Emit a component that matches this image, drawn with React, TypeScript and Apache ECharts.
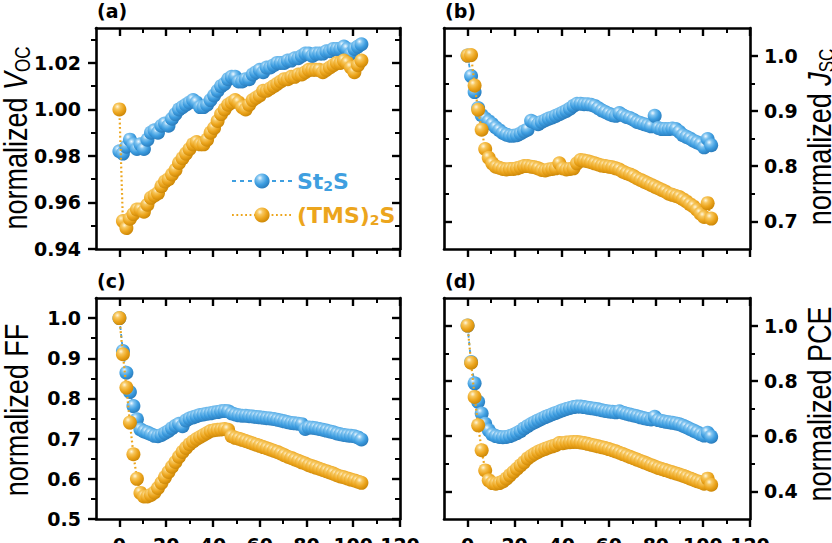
import React, { useEffect, useRef } from 'react';
import * as echarts from 'echarts';

// ---- data ----
const times = [
  0, 1.5, 3, 4.5, 6, 7.5, 9, 10.5, 12, 13.5,
  15, 16.5, 18, 19.5, 21, 22.5, 24, 25.5, 27, 28.5,
  30, 31.5, 33, 34.5, 36, 37.5, 39, 40.5, 42, 43.5,
  45, 46.5, 48, 49.5, 51, 52.5, 54, 55.5, 57, 58.5,
  60, 61.5, 63, 64.5, 66, 67.5, 69, 70.5, 72, 73.5,
  75, 76.5, 78, 79.5, 81, 82.5, 84, 85.5, 87, 88.5,
  90, 91.5, 93, 94.5, 96, 97.5, 99, 100.5, 102, 103.5,
];

const vocSt2S = [
  0.982, 0.981, 0.984, 0.987, 0.985, 0.983, 0.985, 0.983, 0.987, 0.990,
  0.991, 0.990, 0.993, 0.994, 0.993, 0.996, 0.998, 1.000, 1.001, 1.002,
  1.003, 1.004, 1.003, 1.001, 1.001, 1.002, 1.004, 1.006, 1.008, 1.010,
  1.011, 1.013, 1.014, 1.014, 1.012, 1.012, 1.013, 1.013, 1.015, 1.016,
  1.017, 1.016, 1.018, 1.018, 1.019, 1.020, 1.020, 1.020, 1.021, 1.021,
  1.022, 1.022, 1.023, 1.024, 1.024, 1.023, 1.024, 1.024, 1.024, 1.025,
  1.025, 1.026, 1.026, 1.026, 1.027, 1.026, 1.024, 1.026, 1.027, 1.028,
];
const vocTMS = [
  1.000, 0.952, 0.949, 0.953, 0.955, 0.957, 0.957, 0.956, 0.959, 0.962,
  0.963, 0.964, 0.967, 0.969, 0.970, 0.972, 0.974, 0.977, 0.979, 0.981,
  0.983, 0.985, 0.986, 0.985, 0.985, 0.987, 0.990, 0.992, 0.995, 0.998,
  1.000, 1.002, 1.003, 1.004, 1.003, 1.001, 1.000, 1.002, 1.004, 1.005,
  1.006, 1.008, 1.008, 1.009, 1.010, 1.011, 1.012, 1.013, 1.013, 1.014,
  1.014, 1.015, 1.015, 1.016, 1.017, 1.017, 1.017, 1.017, 1.016, 1.017,
  1.018, 1.019, 1.020, 1.020, 1.021, 1.020, 1.018, 1.016, 1.019, 1.021,
];
const jscSt2S = [
  1.000, 0.963, 0.934, 0.905, 0.892, 0.886, 0.881, 0.876, 0.870, 0.865,
  0.860, 0.857, 0.855, 0.855, 0.856, 0.859, 0.863, 0.866, 0.882, 0.879,
  0.876, 0.880, 0.883, 0.886, 0.888, 0.891, 0.894, 0.897, 0.900, 0.904,
  0.909, 0.913, 0.913, 0.912, 0.912, 0.911, 0.909, 0.905, 0.901, 0.898,
  0.895, 0.892, 0.891, 0.896, 0.892, 0.889, 0.887, 0.884, 0.880, 0.878,
  0.876, 0.874, 0.872, 0.891, 0.869, 0.867, 0.867, 0.867, 0.868, 0.867,
  0.862, 0.856, 0.853, 0.850, 0.846, 0.843, 0.840, 0.834, 0.849, 0.838,
];
const jscTMS = [
  1.000, 1.001, 0.946, 0.902, 0.866, 0.831, 0.815, 0.805, 0.799, 0.797,
  0.795, 0.794, 0.795, 0.795, 0.796, 0.798, 0.800, 0.800, 0.799, 0.798,
  0.796, 0.793, 0.792, 0.794, 0.795, 0.796, 0.805, 0.796, 0.794, 0.795,
  0.796, 0.805, 0.811, 0.810, 0.809, 0.807, 0.805, 0.803, 0.801, 0.800,
  0.799, 0.798, 0.796, 0.794, 0.790, 0.787, 0.785, 0.782, 0.778, 0.775,
  0.772, 0.769, 0.766, 0.763, 0.760, 0.757, 0.754, 0.750, 0.748, 0.746,
  0.744, 0.740, 0.736, 0.731, 0.727, 0.721, 0.714, 0.708, 0.733, 0.705,
];
const ffSt2S = [
  1.000, 0.918, 0.864, 0.816, 0.781, 0.748, 0.723, 0.718, 0.715, 0.711,
  0.707, 0.706, 0.709, 0.714, 0.719, 0.726, 0.732, 0.737, 0.731, 0.745,
  0.750, 0.753, 0.756, 0.759, 0.760, 0.762, 0.763, 0.765, 0.766, 0.768,
  0.769, 0.768, 0.763, 0.760, 0.758, 0.757, 0.757, 0.756, 0.755, 0.754,
  0.753, 0.752, 0.751, 0.750, 0.749, 0.747, 0.745, 0.743, 0.741, 0.739,
  0.738, 0.737, 0.736, 0.724, 0.728, 0.727, 0.726, 0.724, 0.722, 0.720,
  0.718, 0.716, 0.713, 0.711, 0.709, 0.708, 0.707, 0.706, 0.703, 0.698,
];
const ffTMS = [
  1.000, 0.910, 0.827, 0.740, 0.661, 0.600, 0.565, 0.556, 0.556, 0.560,
  0.566, 0.577, 0.590, 0.604, 0.617, 0.630, 0.642, 0.655, 0.667, 0.677,
  0.686, 0.693, 0.699, 0.704, 0.709, 0.714, 0.719, 0.721, 0.722, 0.723,
  0.724, 0.722, 0.706, 0.702, 0.700, 0.697, 0.694, 0.691, 0.688, 0.685,
  0.682, 0.679, 0.676, 0.673, 0.670, 0.667, 0.663, 0.659, 0.655, 0.652,
  0.648, 0.645, 0.641, 0.638, 0.634, 0.631, 0.628, 0.625, 0.622, 0.619,
  0.616, 0.613, 0.609, 0.606, 0.604, 0.601, 0.598, 0.596, 0.593, 0.590,
];
const pceSt2S = [
  1.000, 0.868, 0.791, 0.724, 0.682, 0.645, 0.621, 0.606, 0.600, 0.597,
  0.596, 0.597, 0.600, 0.605, 0.611, 0.618, 0.628, 0.636, 0.644, 0.650,
  0.657, 0.663, 0.669, 0.674, 0.679, 0.684, 0.689, 0.694, 0.698, 0.702,
  0.705, 0.707, 0.707, 0.705, 0.703, 0.701, 0.699, 0.697, 0.694, 0.691,
  0.689, 0.688, 0.686, 0.690, 0.685, 0.681, 0.678, 0.675, 0.672, 0.668,
  0.665, 0.662, 0.660, 0.670, 0.658, 0.655, 0.652, 0.650, 0.648, 0.646,
  0.643, 0.638, 0.632, 0.626, 0.620, 0.614, 0.607, 0.602, 0.612, 0.598,
];
const pceTMS = [
  1.000, 0.866, 0.742, 0.639, 0.549, 0.476, 0.440, 0.430, 0.428, 0.430,
  0.436, 0.446, 0.458, 0.470, 0.482, 0.494, 0.505, 0.519, 0.528, 0.536,
  0.543, 0.549, 0.554, 0.559, 0.563, 0.567, 0.575, 0.574, 0.577, 0.578,
  0.579, 0.579, 0.577, 0.575, 0.572, 0.569, 0.566, 0.563, 0.560, 0.557,
  0.553, 0.549, 0.545, 0.540, 0.535, 0.530, 0.525, 0.520, 0.515, 0.510,
  0.505, 0.500, 0.495, 0.490, 0.485, 0.481, 0.477, 0.473, 0.469, 0.465,
  0.461, 0.457, 0.452, 0.447, 0.442, 0.437, 0.433, 0.428, 0.446, 0.424,
];

// tick labels
const xMajor = [0, 20, 40, 60, 80, 100, 120];
const xMinor = [10, 30, 50, 70, 90, 110];
const vocMajor = [0.94, 0.96, 0.98, 1.0, 1.02];
const vocMinor = [0.95, 0.97, 0.99, 1.01, 1.03];
const jscMajor = [0.7, 0.8, 0.9, 1.0];
const jscMinor = [0.75, 0.85, 0.95];
const ffMajor = [0.5, 0.6, 0.7, 0.8, 0.9, 1.0];
const ffMinor = [0.55, 0.65, 0.75, 0.85, 0.95];
const pceMajor = [0.4, 0.6, 0.8, 1.0];
const pceMinor = [0.5, 0.7, 0.9];

const seriesNames = ['St2S', '(TMS)2S'];
const panelLabels = ['(a)', '(b)', '(c)', '(d)'];

// ---- style ----
const TICK_FONT = 'DejaVu Sans';
const NAME_FONT = 'Liberation Sans';
const BLUE = '#3f9fe0';
const ORANGE = '#eca51d';

const blueSphere = new echarts.graphic.RadialGradient(0.36, 0.3, 0.75, [
  { offset: 0, color: '#f2f9ff' },
  { offset: 0.25, color: '#80c4f0' },
  { offset: 0.6, color: '#3d9de0' },
  { offset: 1, color: '#2778b8' },
]);
const orangeSphere = new echarts.graphic.RadialGradient(0.36, 0.3, 0.75, [
  { offset: 0, color: '#fff6dc' },
  { offset: 0.25, color: '#f7c75e' },
  { offset: 0.6, color: '#eca51d' },
  { offset: 1, color: '#c98404' },
]);

const panels = [
  {
    grid: { left: 96, top: 28, width: 304, height: 221 },
    yMin: 0.94, yMax: 1.035, yMajor: vocMajor, yMinor: vocMinor, digits: 2,
    side: 'left', xLabels: false, st: vocSt2S, tms: vocTMS,
    name: '{n|normalized }{v|V}{s|OC}', nameX: 15, nameY: 138,
  },
  {
    grid: { left: 444, top: 28, width: 306, height: 221 },
    yMin: 0.65, yMax: 1.05, yMajor: jscMajor, yMinor: jscMinor, digits: 1,
    side: 'right', xLabels: false, st: jscSt2S, tms: jscTMS,
    name: '{n|normalized }{v|J}{s|SC}', nameX: 819, nameY: 137,
  },
  {
    grid: { left: 96, top: 298, width: 304, height: 221 },
    yMin: 0.5, yMax: 1.05, yMajor: ffMajor, yMinor: ffMinor, digits: 1,
    side: 'left', xLabels: true, st: ffSt2S, tms: ffTMS,
    name: '{n|normalized FF}', nameX: 16, nameY: 410,
  },
  {
    grid: { left: 444, top: 298, width: 306, height: 221 },
    yMin: 0.3, yMax: 1.1, yMajor: pceMajor, yMinor: pceMinor, digits: 1,
    side: 'right', xLabels: true, st: pceSt2S, tms: pceTMS,
    name: '{n|normalized PCE}', nameX: 819, nameY: 404,
  },
];

const labelStyle = {
  color: '#000',
  fontFamily: TICK_FONT,
  fontWeight: 'bold' as const,
  fontSize: 19,
};

function makeAxis(
  gridIndex: number,
  position: string,
  min: number,
  max: number,
  ticks: number[],
  inside: boolean,
  major: boolean,
  showLabels: boolean,
  formatter: (v: number) => string,
  margin: number,
) {
  return {
    type: 'value',
    gridIndex,
    position,
    min,
    max,
    splitLine: { show: false },
    axisLine: {
      show: major,
      onZero: false,
      lineStyle: { color: '#000', width: 2.6 },
    },
    axisTick: {
      show: true,
      inside,
      length: major ? 8 : 5,
      customValues: ticks,
      lineStyle: { color: '#000', width: major ? 2.4 : 2 },
    },
    axisLabel: {
      show: showLabels,
      customValues: ticks,
      formatter,
      margin,
      ...labelStyle,
    },
  };
}

function buildOption() {
  const grids: any[] = [];
  const xAxes: any[] = [];
  const yAxes: any[] = [];
  const series: any[] = [];
  const graphics: any[] = [];

  panels.forEach((p, i) => {
    const main = 2 * i;
    const ghost = 2 * i + 1;
    const g = { ...p.grid, containLabel: false, outerBoundsMode: 'none', show: false };
    grids.push({ ...g });
    grids.push({ ...g });
    const xf = (v: number) => String(v);
    const yf = (v: number) => v.toFixed(p.digits);

    xAxes.push(makeAxis(main, 'bottom', -10, 120, xMajor, false, true, p.xLabels, xf, 16));
    xAxes.push(makeAxis(main, 'top', -10, 120, xMajor, true, true, false, xf, 16));
    xAxes.push(makeAxis(ghost, 'bottom', -10, 120, xMinor, false, false, false, xf, 16));
    xAxes.push(makeAxis(ghost, 'top', -10, 120, xMinor, true, false, false, xf, 16));

    const leftLab = p.side === 'left';
    yAxes.push(makeAxis(main, 'left', p.yMin, p.yMax, p.yMajor, !leftLab, true, leftLab, yf, 15));
    yAxes.push(makeAxis(main, 'right', p.yMin, p.yMax, p.yMajor, leftLab, true, !leftLab, yf, 14));
    yAxes.push(makeAxis(ghost, 'left', p.yMin, p.yMax, p.yMinor, !leftLab, false, false, yf, 15));
    yAxes.push(makeAxis(ghost, 'right', p.yMin, p.yMax, p.yMinor, leftLab, false, false, yf, 14));

    series.push({
      name: seriesNames[0],
      type: 'line',
      xAxisIndex: 4 * i,
      yAxisIndex: 4 * i,
      data: times.map((t, k) => [t, p.st[k]]),
      symbol: 'circle',
      symbolSize: 14,
      showSymbol: true,
      lineStyle: { color: BLUE, width: 1.8, type: [4, 4] },
      itemStyle: { color: blueSphere, borderWidth: 0 },
      emphasis: { disabled: true },
      silent: true,
      z: 2,
    });
    series.push({
      name: seriesNames[1],
      type: 'line',
      xAxisIndex: 4 * i,
      yAxisIndex: 4 * i,
      data: times.map((t, k) => [t, p.tms[k]]),
      symbol: 'circle',
      symbolSize: 14,
      showSymbol: true,
      lineStyle: { color: ORANGE, width: 2.2, type: [1.8, 2.6] },
      itemStyle: { color: orangeSphere, borderWidth: 0 },
      emphasis: { disabled: true },
      silent: true,
      z: 3,
    });

    graphics.push({
      type: 'text',
      x: p.grid.left + 1,
      y: p.grid.top - 27,
      style: {
        text: panelLabels[i],
        fill: '#000',
        fontFamily: TICK_FONT,
        fontWeight: 'bold',
        fontSize: 19,
        align: 'left',
        verticalAlign: 'top',
      },
    });
    graphics.push({
      type: 'text',
      x: p.nameX,
      y: p.nameY,
      rotation: Math.PI / 2,
      scaleY: 1.25,
      style: {
        text: p.name,
        fill: '#000',
        fontFamily: NAME_FONT,
        fontSize: 27,
        align: 'center',
        verticalAlign: 'middle',
        rich: {
          n: { fontFamily: NAME_FONT, fontSize: 27, fill: '#000' },
          v: { fontFamily: NAME_FONT, fontSize: 27, fontStyle: 'italic', fill: '#000' },
          s: { fontFamily: NAME_FONT, fontSize: 17, fill: '#000', padding: [12, 0, 0, 0] },
        },
      },
    });
  });

  return {
    animation: false,
    backgroundColor: '#ffffff',
    grid: grids,
    xAxis: xAxes,
    yAxis: yAxes,
    series,
    legend: {
      show: true,
      orient: 'vertical',
      left: 226,
      top: 165,
      itemWidth: 60,
      itemHeight: 19,
      itemGap: 11,
      selectedMode: false,
      data: seriesNames,
      formatter: (n: string) =>
        n === seriesNames[0] ? '{b|St}{bs|2}{b|S}' : '{o|(TMS)}{os|2}{o|S}',
      textStyle: {
        rich: {
          b: { color: BLUE, fontFamily: TICK_FONT, fontWeight: 'bold', fontSize: 22 },
          bs: { color: BLUE, fontFamily: TICK_FONT, fontWeight: 'bold', fontSize: 14, padding: [10, 0, 0, 0] },
          o: { color: ORANGE, fontFamily: TICK_FONT, fontWeight: 'bold', fontSize: 22 },
          os: { color: ORANGE, fontFamily: TICK_FONT, fontWeight: 'bold', fontSize: 14, padding: [10, 0, 0, 0] },
        },
      },
    },
    graphic: graphics,
  };
}

export default function App() {
  const ref = useRef<HTMLDivElement>(null);
  useEffect(() => {
    if (!ref.current) return;
    const chart = echarts.init(ref.current, null, { renderer: 'svg' });
    chart.setOption(buildOption() as any);
    return () => chart.dispose();
  }, []);
  return (
    <div
      ref={ref}
      style={{ position: 'absolute', left: 0, top: 0, width: 832, height: 543, background: '#fff' }}
    />
  );
}
